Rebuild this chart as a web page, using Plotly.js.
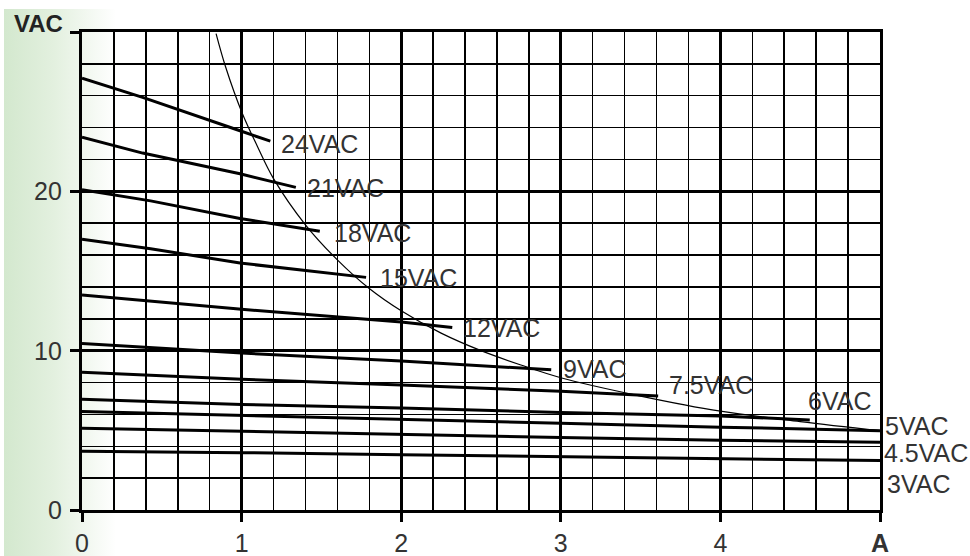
<!DOCTYPE html>
<html>
<head>
<meta charset="utf-8">
<script src="https://cdn.plot.ly/plotly-3.0.1.min.js"></script>
<style>
  html, body { margin: 0; padding: 0; background: #ffffff; }
  #wrap { position: relative; width: 970px; height: 556px; overflow: hidden; }
  #grad { position: absolute; left: 4px; top: 9px; width: 112px; height: 547px;
          background: linear-gradient(to right, #d3e8ce 0%, #e3f0df 45%, #ffffff 100%); }
  #chart { position: absolute; left: 0; top: 0; width: 970px; height: 556px; }
</style>
</head>
<body>
<div id="wrap"><div id="grad"></div><div id="chart"></div></div>
<script>
// ---- data ----
const seriesNames = ['24VAC', '21VAC', '18VAC', '15VAC', '12VAC', '9VAC', '7.5VAC', '6VAC', '5VAC', '4.5VAC', '3VAC'];

const x24 = [0, 0.38, 0.99, 1.18];
const y24 = [27.1, 25.9, 23.8, 23.15];
const x21 = [0, 0.38, 0.99, 1.34];
const y21 = [23.4, 22.4, 21.1, 20.25];
const x18 = [0, 0.43, 0.99, 1.49];
const y18 = [20.1, 19.4, 18.3, 17.5];
const x15 = [0, 0.43, 0.99, 1.78];
const y15 = [17.0, 16.4, 15.5, 14.6];
const x12 = [0, 0.43, 1.0, 2.0, 2.32];
const y12 = [13.5, 13.1, 12.6, 11.8, 11.45];
const x9 = [0, 1, 2, 2.94];
const y9 = [10.45, 9.85, 9.35, 8.8];
const x75 = [0, 1, 2, 3, 3.61];
const y75 = [8.65, 8.2, 7.85, 7.45, 7.15];
const x6 = [0, 1, 2, 3, 4, 4.56];
const y6 = [6.95, 6.62, 6.4, 6.12, 5.9, 5.65];
const x5 = [0, 1, 2, 3, 4, 5];
const y5 = [6.18, 5.95, 5.7, 5.45, 5.2, 4.98];
const x45 = [0, 1, 2, 3, 4, 5];
const y45 = [5.13, 4.93, 4.75, 4.55, 4.38, 4.25];
const x3 = [0, 1, 2, 3, 4, 5];
const y3 = [3.68, 3.6, 3.47, 3.35, 3.2, 3.1];

// power limit curve (thin line)
const limitX = [0.84, 0.9, 1.0, 1.1, 1.2, 1.4, 1.6, 1.8, 2.0, 2.25, 2.5, 2.75, 3.0, 3.5, 4.0, 4.5, 5.0];
const limitY = [29.9, 27.8, 25.0, 22.8, 20.8, 17.9, 15.7, 13.9, 12.5, 11.1, 10.0, 9.1, 8.3, 7.15, 6.2, 5.55, 4.98];

const xTickVals = [0, 1, 2, 3, 4, 5];
const xTickText = ['0', '1', '2', '3', '4', '<b>A</b>'];
const yTickVals = [0, 10, 20, 30];
const yTickText = ['0', '10', '20', ''];
const yUnit = 'VAC';

// ---- styling / label placement (pixel offsets from each line end) ----
const seriesX = [x24, x21, x18, x15, x12, x9, x75, x6, x5, x45, x3];
const seriesY = [y24, y21, y18, y15, y12, y9, y75, y6, y5, y45, y3];
const labelShift = [[9, -3], [9, -1], [12, -2], [12, -1], [9, 0], [10, 1], [9, 11], [-4, 19], [3, 5], [2, -11], [5, -23]];

const FONT = 'Liberation Sans, Arial, Helvetica, sans-serif';
const LABEL_FONT = { family: FONT, size: 25, color: '#333333' };
const traces = [];
const annotations = [];
seriesNames.forEach((name, i) => {
  traces.push({
    type: 'scatter', mode: 'lines', name: name,
    x: seriesX[i], y: seriesY[i],
    line: { color: '#000000', width: 3 },
    hoverinfo: 'skip'
  });
  const n = seriesX[i].length - 1;
  annotations.push({
    x: seriesX[i][n], y: seriesY[i][n], xref: 'x', yref: 'y',
    text: name, showarrow: false, xanchor: 'left', yanchor: 'middle',
    xshift: labelShift[i][0], yshift: labelShift[i][1],
    font: LABEL_FONT
  });
});
traces.push({
  type: 'scatter', mode: 'lines', name: 'limit',
  x: limitX, y: limitY,
  line: { color: '#000000', width: 1.2, shape: 'spline', smoothing: 1 },
  hoverinfo: 'skip'
});
// y tick labels (drawn as annotations so they sit close to the ticks)
yTickVals.forEach((v, i) => {
  if (!yTickText[i]) return;
  annotations.push({
    xref: 'paper', yref: 'y', x: 0, y: v, xanchor: 'right', yanchor: 'middle',
    xshift: -18, yshift: 0, showarrow: false, text: yTickText[i],
    font: LABEL_FONT
  });
});
annotations.push({
  xref: 'paper', yref: 'paper', x: 0, y: 1, xanchor: 'right', yanchor: 'middle',
  xshift: -17, yshift: 9, showarrow: false,
  text: '<b>' + yUnit + '</b>',
  font: { family: FONT, size: 24, color: '#222222' }
});

const axisCommon = {
  showgrid: true, gridcolor: '#000000', gridwidth: 3,
  showline: true, linecolor: '#000000', linewidth: 3, mirror: true,
  ticks: 'outside', ticklen: 9, tickwidth: 3, tickcolor: '#000000',
  zeroline: false, fixedrange: true,
  tickfont: LABEL_FONT
};

const layout = {
  width: 970, height: 556,
  margin: { l: 82, r: 90, t: 32, b: 46, pad: 0 },
  paper_bgcolor: 'rgba(0,0,0,0)', plot_bgcolor: 'rgba(0,0,0,0)',
  showlegend: false,
  xaxis: Object.assign({}, axisCommon, {
    range: [0, 5], tickmode: 'array', tickvals: xTickVals, ticktext: xTickText,
    ticklabelstandoff: 0,
    minor: { tickmode: 'linear', tick0: 0, dtick: 0.2, showgrid: true, gridcolor: '#000000', gridwidth: 1.5, ticks: '' }
  }),
  yaxis: Object.assign({}, axisCommon, {
    range: [0, 30], tickmode: 'array', tickvals: yTickVals, ticktext: yTickText,
    showticklabels: false,
    minor: { tickmode: 'linear', tick0: 0, dtick: 2, showgrid: true, gridcolor: '#000000', gridwidth: 1.5, ticks: '' }
  }),
  annotations: annotations
};

Plotly.newPlot('chart', traces, layout, { staticPlot: true, displayModeBar: false });
</script>
</body>
</html>
